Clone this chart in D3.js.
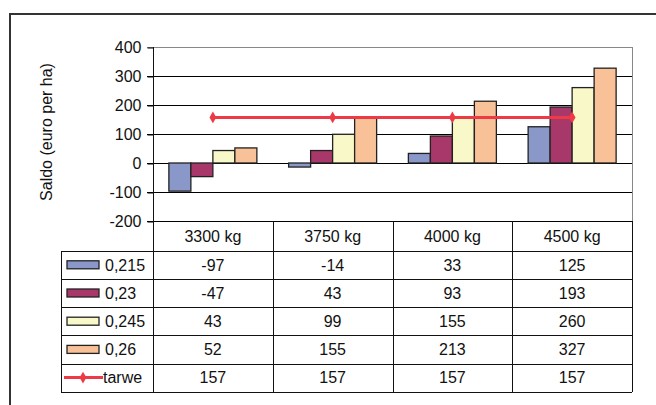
<!DOCTYPE html>
<html>
<head>
<meta charset="utf-8">
<script src="https://cdn.jsdelivr.net/npm/d3@7"></script>
<style>
  body { margin: 0; background: #fff; }
  svg { display: block; font-family: Arial, "Liberation Sans", sans-serif; }
</style>
</head>
<body>
<svg width="656" height="405"></svg>
<script>
// Données du graphique
const categories = ["3300 kg", "3750 kg", "4000 kg", "4500 kg"];
const series = ["0,215", "0,23", "0,245", "0,26"];
const v0215 = [-97, -14, 33, 125];
const v023 = [-47, 43, 93, 193];
const v0245 = [43, 99, 155, 260];
const v026 = [52, 155, 213, 327];
const tarwe = [157, 157, 157, 157];
const yTicks = [400, 300, 200, 100, 0, -100, -200];

const valeurs = [v0215, v023, v0245, v026];
const couleurs = ["#8A97C9", "#A9386A", "#F9F8C9", "#F9C197"];
const rouge = "#EE3A46";
const taille = "16px";

const svg = d3.select("svg");

// Cadre extérieur (coupé à droite et en bas)
svg.append("path")
    .attr("d", "M10,405 V14 H656")
    .attr("fill", "none")
    .attr("stroke", "#333")
    .attr("stroke-width", 2);

// Échelles
const yScale = d3.scaleLinear().domain([-200, 400]).range([221, 47]);
const xScale = d3.scaleBand().domain(categories).range([153, 632]);
const barW = 22;
const serieScale = d3.scaleBand().domain(series).range([-2 * barW, 2 * barW]);

// Lignes de grille
svg.append("g")
    .selectAll("line")
    .data(yTicks)
    .join("line")
    .attr("x1", 147)
    .attr("x2", 632)
    .attr("y1", d => Math.round(yScale(d)) + 0.5)
    .attr("y2", d => Math.round(yScale(d)) + 0.5)
    .attr("stroke", d => d === 400 ? "#888" : "#000")
    .attr("stroke-width", 1);

// Bord droit de la zone de tracé
svg.append("line")
    .attr("x1", 632.5).attr("x2", 632.5)
    .attr("y1", 47).attr("y2", 221)
    .attr("stroke", "#888");

// Axe y
const yAxis = svg.append("g")
    .attr("transform", "translate(153.5,0.5)")
    .call(d3.axisLeft(yScale).tickValues(yTicks).tickSize(6).tickPadding(6).tickFormat(d3.format("d")));
yAxis.select(".domain").remove();
yAxis.selectAll(".tick line").attr("stroke", "#000");
yAxis.selectAll(".tick text")
    .attr("fill", "#111")
    .style("font-size", taille)
    .text(d => d < 0 ? "-" + Math.abs(d) : d);

// Titre de l'axe y
svg.append("text")
    .attr("transform", "translate(52,132) rotate(-90)")
    .attr("text-anchor", "middle")
    .attr("fill", "#111")
    .style("font-size", taille)
    .text("Saldo (euro per ha)");

// Barres
const groupes = svg.append("g")
    .selectAll("g")
    .data(valeurs)
    .join("g")
    .attr("fill", (d, i) => couleurs[i]);

groupes.selectAll("rect")
    .data((d, i) => d.map((v, j) => ({ v: v, cat: categories[j], serie: series[i] })))
    .join("rect")
    .attr("x", d => xScale(d.cat) + xScale.bandwidth() / 2 + serieScale(d.serie))
    .attr("y", d => yScale(Math.max(0, d.v)))
    .attr("width", serieScale.bandwidth())
    .attr("height", d => Math.abs(yScale(d.v) - yScale(0)))
    .attr("stroke", "#222")
    .attr("stroke-width", 1.3);

// Ligne tarwe
const ligne = d3.line()
    .x((d, i) => xScale(categories[i]) + xScale.bandwidth() / 2)
    .y(d => yScale(d));

svg.append("path")
    .datum(tarwe)
    .attr("d", ligne)
    .attr("fill", "none")
    .attr("stroke", rouge)
    .attr("stroke-width", 3);

const diamant = d3.symbol().type(d3.symbolDiamond).size(40);
svg.append("g")
    .selectAll("path")
    .data(tarwe)
    .join("path")
    .attr("d", diamant)
    .attr("fill", rouge)
    .attr("transform", (d, i) => `translate(${xScale(categories[i]) + xScale.bandwidth() / 2},${yScale(d)})`);

// Tableau de données
const lignes = series.concat(["tarwe"]);
const rowScale = d3.scaleBand().domain(lignes).range([250.7, 391.7]);
const tableTop = 221;
const tabData = valeurs.concat([tarwe]);

const table = svg.append("g")
    .attr("stroke", "#111")
    .attr("stroke-width", 1);

// lignes horizontales
table.selectAll(".hline")
    .data(lignes)
    .join("line")
    .attr("x1", 61).attr("x2", 632)
    .attr("y1", d => Math.round(rowScale(d)) + 0.5)
    .attr("y2", d => Math.round(rowScale(d)) + 0.5);
table.append("line")
    .attr("x1", 61).attr("x2", 632)
    .attr("y1", 392.5).attr("y2", 392.5);

// lignes verticales
table.selectAll(".vline")
    .data(categories)
    .join("line")
    .attr("x1", d => Math.round(xScale(d)) + 0.5)
    .attr("x2", d => Math.round(xScale(d)) + 0.5)
    .attr("y1", d => d === categories[0] ? 47 : tableTop)
    .attr("y2", 392);
table.append("line")
    .attr("x1", 632.5).attr("x2", 632.5)
    .attr("y1", tableTop).attr("y2", 392);
table.append("line")
    .attr("x1", 61.5).attr("x2", 61.5)
    .attr("y1", 251).attr("y2", 392);

// en-têtes
svg.append("g")
    .selectAll("text")
    .data(categories)
    .join("text")
    .attr("x", d => xScale(d) + xScale.bandwidth() / 2)
    .attr("y", (tableTop + 250.7) / 2)
    .attr("dy", "0.36em")
    .attr("text-anchor", "middle")
    .attr("fill", "#111")
    .style("font-size", taille)
    .text(d => d);

// valeurs
svg.append("g")
    .selectAll("g")
    .data(tabData)
    .join("g")
    .each(function (row, i) {
        d3.select(this).selectAll("text")
            .data(row)
            .join("text")
            .attr("x", (v, j) => xScale(categories[j]) + xScale.bandwidth() / 2)
            .attr("y", rowScale(lignes[i]) + rowScale.bandwidth() / 2)
            .attr("dy", "0.36em")
            .attr("text-anchor", "middle")
            .attr("fill", "#111")
            .style("font-size", taille)
            .text(v => v);
    });

// Légende
const legende = svg.append("g");
legende.selectAll("rect")
    .data(series)
    .join("rect")
    .attr("x", 67)
    .attr("y", d => rowScale(d) + rowScale.bandwidth() / 2 - 4)
    .attr("width", 32)
    .attr("height", 8)
    .attr("fill", (d, i) => couleurs[i])
    .attr("stroke", "#222")
    .attr("stroke-width", 1.3);

const yTarwe = rowScale("tarwe") + rowScale.bandwidth() / 2;
legende.append("line")
    .attr("x1", 64).attr("x2", 103)
    .attr("y1", yTarwe).attr("y2", yTarwe)
    .attr("stroke", rouge)
    .attr("stroke-width", 3);
legende.append("path")
    .attr("d", diamant)
    .attr("fill", rouge)
    .attr("transform", `translate(83,${yTarwe})`);

legende.selectAll("text")
    .data(lignes)
    .join("text")
    .attr("x", d => d === "tarwe" ? 103 : 105)
    .attr("y", d => rowScale(d) + rowScale.bandwidth() / 2)
    .attr("dy", "0.36em")
    .attr("fill", "#111")
    .style("font-size", taille)
    .text(d => d);
</script>
</body>
</html>
